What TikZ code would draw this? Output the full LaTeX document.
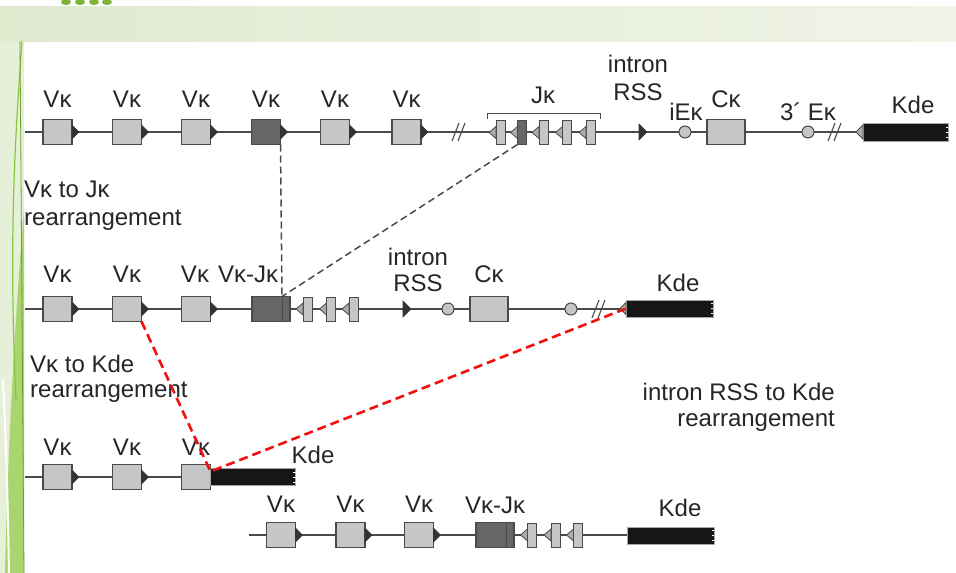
\documentclass[tikz,border=0pt]{standalone}
\usepackage{fontspec}
\setmainfont{Liberation Sans}
\usetikzlibrary{calc}
\definecolor{dnaline}{HTML}{4A4A4A}
\definecolor{boxfill}{HTML}{C6C6C6}
\definecolor{darkfill}{HTML}{666666}
\definecolor{txtc}{HTML}{262626}
\definecolor{kdefill}{HTML}{161616}
\definecolor{trifill}{HTML}{333333}
\definecolor{bandL}{HTML}{DFEACF}
\definecolor{bandR}{HTML}{F0F4E8}
\definecolor{limeg}{HTML}{8CC63F}
\definecolor{paleg}{HTML}{E6EFD8}
\definecolor{redd}{HTML}{F01010}

\newcommand{\Vgene}[4]{%
  \node[#4] (#1) at (#2,#3) {};
  \filldraw[rtri] (#1.east) ++(0,-7) -- ++(7,7) -- ++(-7,7) -- cycle;}
\newcommand{\Jgene}[4]{%
  \node[#4] (#1) at (#2,#3) {};
  \filldraw[ltri] (#1.west) ++(0,-6) -- ++(-7,6) -- ++(7,6) -- cycle;}
\newcommand{\brk}[2]{%
  \draw[dnaline, line width=1.1pt] (#1-6,#2+9) -- (#1+1,#2-9) (#1,#2+9) -- (#1+7,#2-9);}
\newcommand{\ragged}[1]{%
  \foreach \k in {-5,0,5} \draw[white, line width=0.8pt] ([yshift=\k pt]#1.east) -- ++(-2.5,0);}

\begin{document}
\begin{tikzpicture}[x=1pt,y=-1pt,
  lbl/.style={text=txtc, inner sep=0pt, anchor=base, font=\fontsize{24}{28}\selectfont},
  lblw/.style={lbl, anchor=base west},
  lble/.style={lbl, anchor=base east},
  dna/.style={draw=dnaline, line width=1.3pt},
  vbox/.style={draw=dnaline, fill=boxfill, line width=1.1pt, minimum width=29pt, minimum height=25pt, inner sep=0pt, outer sep=0pt},
  dvbox/.style={vbox, fill=darkfill},
  vjbox/.style={vbox, fill=darkfill, minimum width=38pt},
  jbox/.style={draw=dnaline, fill=boxfill, line width=1pt, minimum width=9pt, minimum height=24pt, inner sep=0pt, outer sep=0pt},
  djbox/.style={jbox, fill=darkfill},
  cbox/.style={vbox, minimum width=38pt},
  rtri/.style={fill=trifill, draw=trifill, line width=0.6pt},
  ltri/.style={fill=gray!65, draw=dnaline, line width=0.8pt},
  enh/.style={circle, draw=dnaline, fill=boxfill, line width=1pt, minimum size=12pt, inner sep=0pt, outer sep=0pt},
  kdebar/.style={fill=kdefill, draw=gray!70, line width=0.6pt, minimum height=18pt, inner sep=0pt, outer sep=0pt},
  gdash/.style={draw=dnaline, line width=1.5pt, dash pattern=on 7pt off 4pt},
  rdash/.style={draw=redd, line width=2.6pt, dash pattern=on 9pt off 5pt}
]
% ---------- background ----------
\useasboundingbox (0,0) rectangle (956,573);
\fill[white] (0,0) rectangle (956,573);
\shade[left color=bandL, right color=bandR] (0,6) rectangle (956,41);
\foreach \bx in {66,80,94,107} \fill[limeg!90!black] (\bx,2) ellipse (5pt and 3pt);
\fill[paleg] (0,41) rectangle (24,573);
\fill[limeg!75] (24,210) .. controls (14,330) and (8,450) .. (5,573) -- (24,573) -- cycle;
\draw[white, line width=2pt] (3,380) .. controls (7,470) .. (9,573);
\draw[limeg, line width=1.2pt] (22,41) .. controls (14,150) and (9,250) .. (16,400);
\draw[limeg!80!black, line width=0.8pt] (20,41) -- (24,573);

% ---------- row 1 ----------
\coordinate (r1s) at (25,132);
\coordinate (r1end) at (856,132);
\draw[dna] (r1s) -- (r1end);
\Vgene{r1v1}{57.5}{132}{vbox}
\Vgene{r1v2}{127}{132}{vbox}
\Vgene{r1v3}{196}{132}{vbox}
\Vgene{r1v4}{266}{132}{dvbox}
\Vgene{r1v5}{335}{132}{vbox}
\Vgene{r1v6}{406.5}{132}{vbox}
\brk{458}{132}
\Jgene{r1j1}{500.5}{132.5}{jbox}
\Jgene{r1j2}{522}{132.5}{djbox}
\Jgene{r1j3}{543.5}{132.5}{jbox}
\Jgene{r1j4}{567}{132.5}{jbox}
\Jgene{r1j5}{590.5}{132.5}{jbox}
\draw[dnaline, line width=1pt] (487,119) -- (487,113) -- (600,113) -- (600,119);
\coordinate (r1rss) at (639,132);
\filldraw[rtri] (r1rss) ++(0,-8) -- ++(8,8) -- ++(-8,8) -- cycle;
\node[enh] (r1ie) at (685,132) {};
\node[cbox] (r1c) at (726,132) {};
\node[enh] (r1e3) at (808,132) {};
\brk{834}{132}
\node[kdebar, minimum width=85pt] (r1kde) at (905.5,132) {};
\ragged{r1kde}
\filldraw[ltri] (r1kde.west) ++(0,-7) -- ++(-7,7) -- ++(7,7) -- cycle;

\node[lbl] (t1a) at (57.5,107) {Vκ};
\node[lbl] (t1b) at (127,107) {Vκ};
\node[lbl] (t1c) at (196,107) {Vκ};
\node[lbl] (t1d) at (266,107) {Vκ};
\node[lbl] (t1e) at (335,107) {Vκ};
\node[lbl] (t1f) at (406.5,107) {Vκ};
\node[lbl] (t1j) at (543,103) {Jκ};
\node[lbl] (t1i) at (638,72) {intron};
\node[lbl] (t1r) at (638,100) {RSS};
\node[lbl] (t1ie) at (686,120) {iEκ};
\node[lbl] (t1ck) at (726,107) {Cκ};
\node[lbl] (t1e3) at (808,120) {3´ Eκ};
\node[lbl] (t1k) at (913,113) {Kde};

\node[lblw] (tvj1) at (24,197) {Vκ to Jκ};
\node[lblw] (tvj2) at (24,225) {rearrangement};

% ---------- row 2 ----------
\coordinate (r2s) at (25,309);
\coordinate (r2end) at (621,309);
\draw[dna] (r2s) -- (r2end);
\Vgene{r2v1}{57.5}{309}{vbox}
\Vgene{r2v2}{127}{309}{vbox}
\Vgene{r2v3}{196}{309}{vbox}
\node[vjbox] (r2vj) at (271,309) {};
\draw[dnaline, line width=1pt] ($(r2vj.north east)+(-8,0)$) -- ($(r2vj.south east)+(-8,0)$);
\Jgene{r2j1}{307.5}{309}{jbox}
\Jgene{r2j2}{331}{309}{jbox}
\Jgene{r2j3}{353.5}{309}{jbox}
\coordinate (r2rss) at (403,309);
\filldraw[rtri] (r2rss) ++(0,-8) -- ++(8,8) -- ++(-8,8) -- cycle;
\node[enh] (r2ie) at (448,309) {};
\node[cbox] (r2c) at (489,309) {};
\node[enh] (r2e3) at (571,309) {};
\brk{598}{309}
\node[kdebar, minimum width=87pt, minimum height=17pt] (r2kde) at (669.5,308.5) {};
\ragged{r2kde}
\filldraw[ltri] (r2kde.west) ++(0,-6) -- ++(-6,6) -- ++(6,6) -- cycle;

\node[lbl] (t2a) at (57.5,282) {Vκ};
\node[lbl] (t2b) at (127,282) {Vκ};
\node[lbl] (t2c) at (195,282) {Vκ};
\node[lbl] (t2vj) at (248,282) {Vκ-Jκ};
\node[lbl] (t2i) at (418,265) {intron};
\node[lbl] (t2r) at (418,291) {RSS};
\node[lbl] (t2ck) at (489,282) {Cκ};
\node[lbl] (t2k) at (678,291) {Kde};

\node[lblw] (tvk1) at (30,372) {Vκ to Kde};
\node[lblw] (tvk2) at (30,397) {rearrangement};
\node[lble] (tik1) at (835,400) {intron RSS to Kde};
\node[lble] (tik2) at (835,426) {rearrangement};

% ---------- row 3 ----------
\coordinate (r3s) at (25,477);
\coordinate (r3end) at (210,477);
\draw[dna] (r3s) -- (r3end);
\Vgene{r3v1}{57.5}{477}{vbox}
\Vgene{r3v2}{127}{477}{vbox}
\node[vbox] (r3v3) at (196,477) {};
\node[kdebar, minimum width=85pt, minimum height=17pt, anchor=west] (r3kde) at (r3v3.east) {};
\ragged{r3kde}
\node[lbl] (t3a) at (57.5,455) {Vκ};
\node[lbl] (t3b) at (127,455) {Vκ};
\node[lbl] (t3c) at (196,455) {Vκ};
\node[lbl] (t3k) at (313,463) {Kde};

% ---------- row 4 ----------
\coordinate (r4s) at (249,535);
\coordinate (r4end) at (627,535);
\draw[dna] (r4s) -- (r4end);
\Vgene{r4v1}{281}{535}{vbox}
\Vgene{r4v2}{350.5}{535}{vbox}
\Vgene{r4v3}{419}{535}{vbox}
\node[vjbox] (r4vj) at (495,535) {};
\draw[dnaline, line width=1pt] ($(r4vj.north east)+(-8,0)$) -- ($(r4vj.south east)+(-8,0)$);
\Jgene{r4j1}{532}{535}{jbox}
\Jgene{r4j2}{555.5}{535}{jbox}
\Jgene{r4j3}{578}{535}{jbox}
\node[kdebar, minimum width=87pt, minimum height=17pt] (r4kde) at (670.5,535.5) {};
\ragged{r4kde}
\node[lbl] (t4a) at (281,512) {Vκ};
\node[lbl] (t4b) at (350.5,512) {Vκ};
\node[lbl] (t4c) at (419,512) {Vκ};
\node[lbl] (t4vj) at (495,513) {Vκ-Jκ};
\node[lbl] (t4k) at (680,516) {Kde};

% ---------- connectors ----------
\coordinate (r2vjtop) at ($(r2vj.north east)+(-8,0)$);
\draw[gdash] (r1v4.south east) -- (r2vjtop);
\draw[gdash] (r1j2.south west) -- (r2vjtop);
\coordinate (r3join) at ($(r3kde.north west)+(0,3)$);
\draw[rdash] (r2v2.south east) -- (r3join) -- (r2kde.west);
\end{tikzpicture}
\end{document}
